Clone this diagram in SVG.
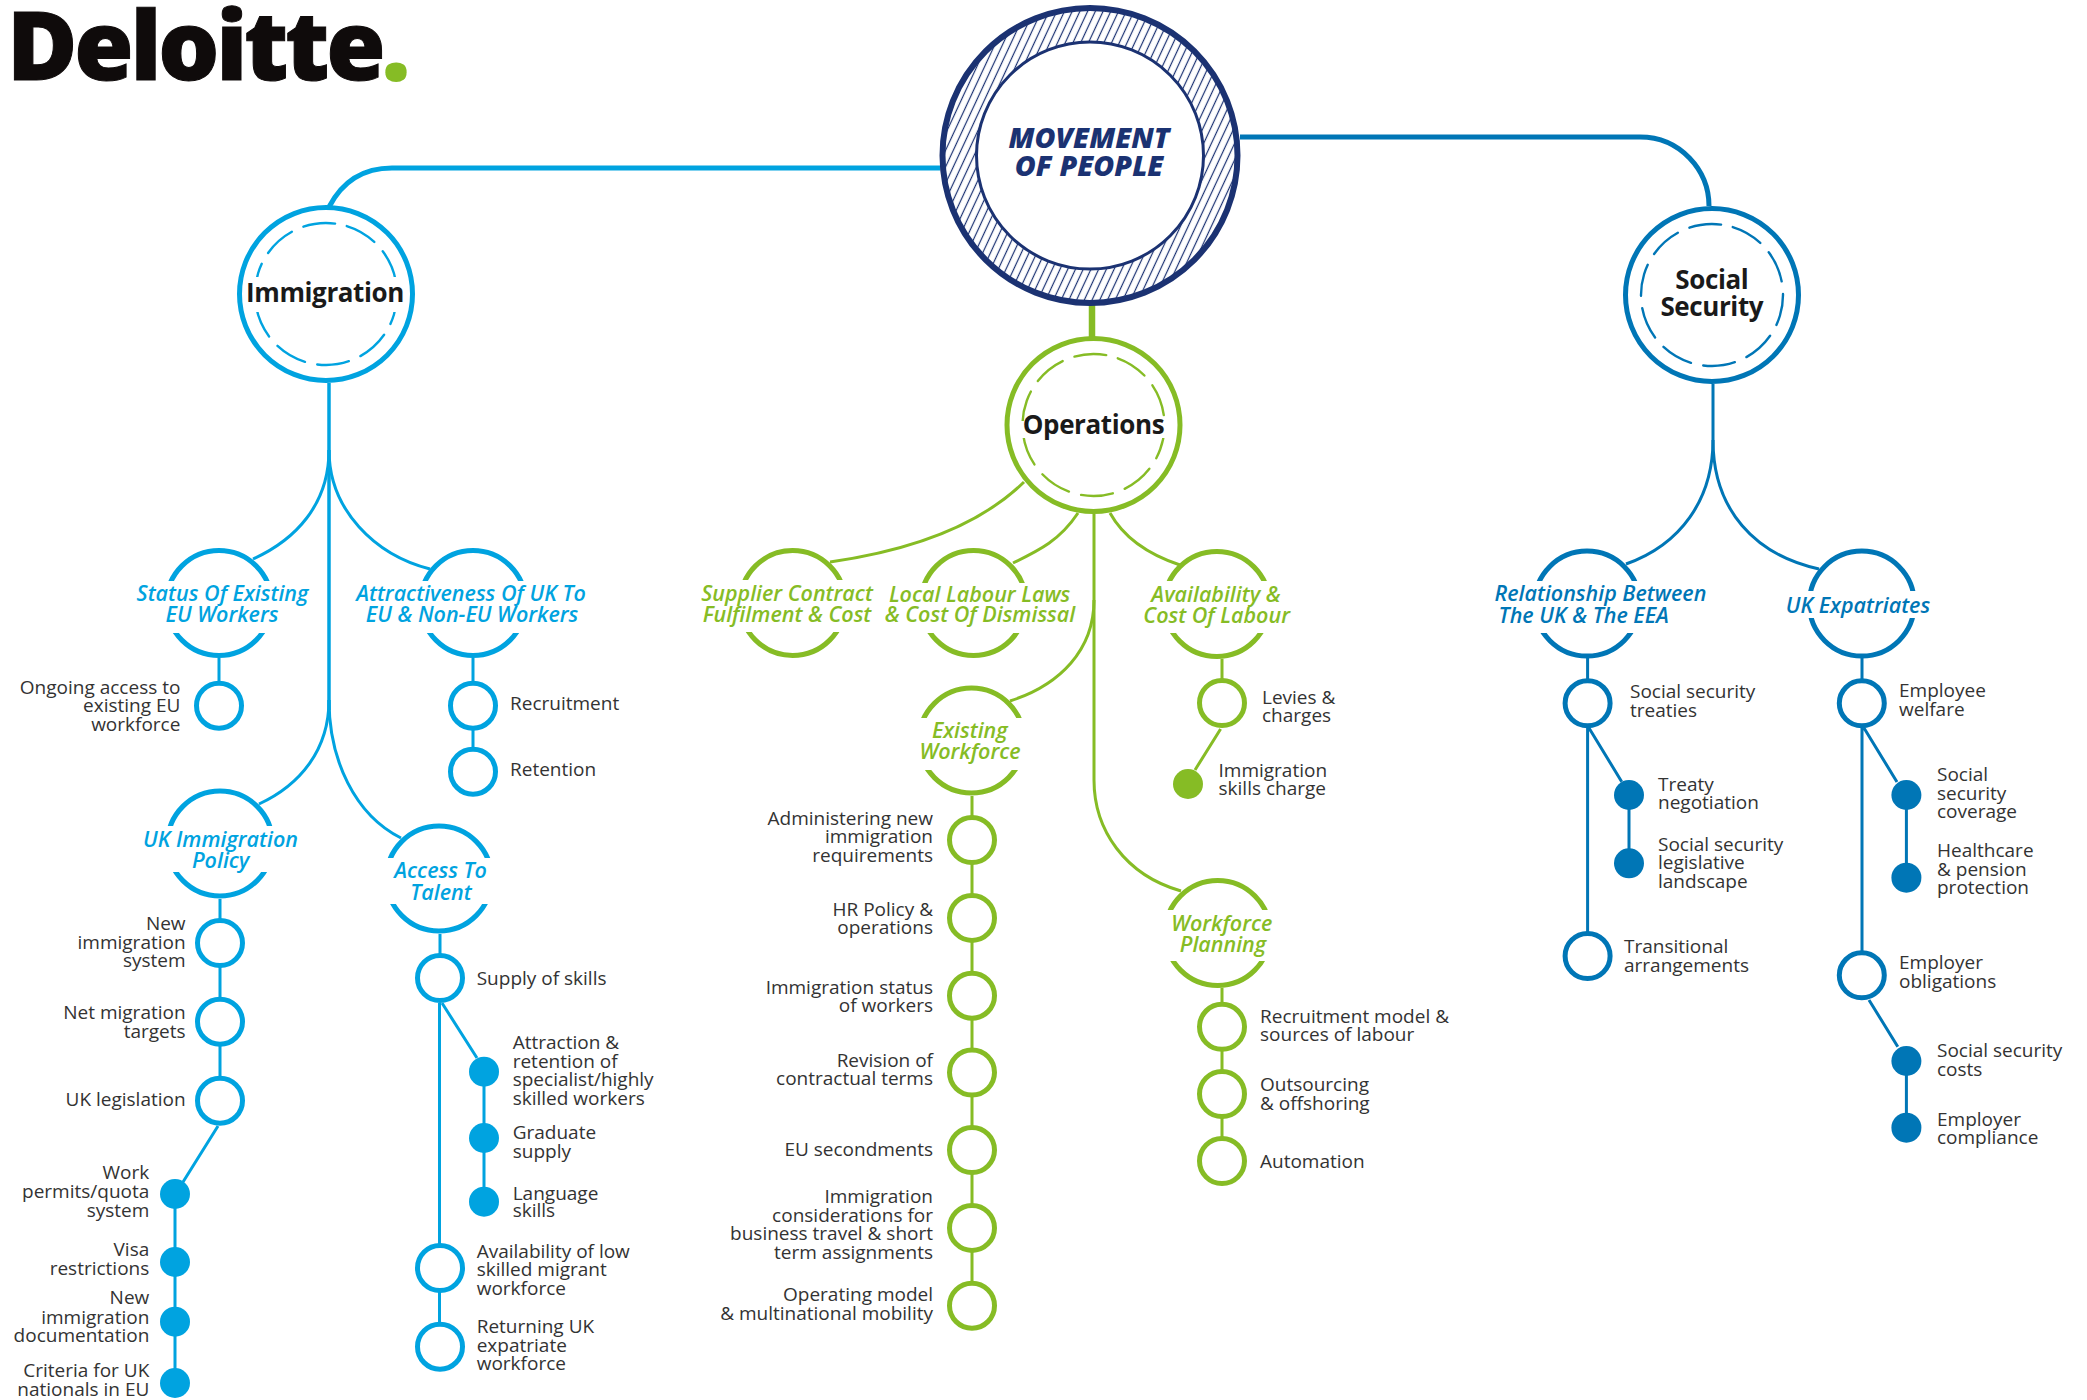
<svg xmlns="http://www.w3.org/2000/svg" width="2087" height="1400" viewBox="0 0 2087 1400">
<style>
text{font-family:"Open Sans","Noto Sans","Liberation Sans",sans-serif}
.lb{font-size:19px;fill:#333}
.e{text-anchor:end}
.t{font-size:21.500px;font-style:italic;font-weight:600;text-anchor:middle}
.ts{font-size:21.500px;font-style:italic;font-weight:600}
.h{font-size:26px;font-weight:700;fill:#1a1a1a;text-anchor:middle;letter-spacing:-.4px}
.mv{font-size:28.600px;font-style:italic;font-weight:800;fill:#1b3272;text-anchor:middle}
.gap{fill:#fff;stroke:none}
.cy{stroke:#00a3e0}.gr{stroke:#86bc25}.bl{stroke:#0076b6}
.tcy{fill:#00a3e0}.tgr{fill:#86bc25}.tbl{fill:#0076b6}
.ring,.top,.big,.dash{fill:#fff}
.ring{stroke-width:5}
.top{stroke-width:5}
.big{stroke-width:5}
.dash{fill:none;stroke-width:2.400;stroke-dasharray:32 12.600;stroke-linecap:round}
.con{fill:none;stroke-width:3}
.tr{fill:none;stroke-width:3.500}
.thick{fill:none;stroke-width:5}
</style>
<defs>
<pattern id="hatch" width="7" height="7" patternUnits="userSpaceOnUse" patternTransform="rotate(25)">
<rect width="7" height="7" fill="#fff"/>
<line x1="3.500" y1="0" x2="3.500" y2="7" stroke="#1b3272" stroke-width="1.200"/>
</pattern>
</defs>
<rect width="2087" height="1400" fill="#fff"/>

<g id="connectors">
<path class="thick cy" d="M940,168H392C362,168 342,182 329,207"/>
<path class="thick bl" d="M1240,137H1640C1680,137 1709,170 1709,206"/>
<path class="thick gr" style="stroke-width:6.500" d="M1092,305V337"/>
<path class="tr cy" d="M329,383V710"/>
<path class="con cy" d="M329,450C329,505 295,540 253,559"/>
<path class="con cy" d="M329,450C329,510 375,555 430,569"/>
<path class="con cy" d="M329,700C329,750 300,785 259,804"/>
<path class="con cy" d="M329,700C329,760 355,815 401,838"/>
<path class="con cy" d="M219,658V684M473,658V772M220,899V1100M440,934V978"/>
<path class="con cy" d="M218,1126L183,1182M175,1194V1383"/>
<path class="con cy" d="M439.500,1003V1347M442,1003L477,1058M484,1072V1202"/>
<path class="con gr" d="M1094,514V780C1094,830 1125,875 1181,891"/>
<path class="con gr" d="M1094,600C1094,650 1060,685 1010,701"/>
<path class="con gr" d="M1024,482C975,530 900,552 830,562"/>
<path class="con gr" d="M1078,513C1060,540 1040,550 1013,563"/>
<path class="con gr" d="M1110,513C1125,540 1150,555 1180,565"/>
<path class="con gr" d="M1222,659V703M1220.600,729L1195,770M972,796V1306M1222,988V1161"/>
<path class="con bl" d="M1713,384V440C1713,500 1680,545 1626,564"/>
<path class="con bl" d="M1713,440C1713,510 1755,555 1819,569"/>
<path class="con bl" d="M1587.600,658V956M1589,728L1621.700,781.700M1629,795V863"/>
<path class="con bl" d="M1862,658V975M1864,728L1897,782M1869,1000L1897.800,1046.700M1906.400,795V878M1906.400,1061V1128"/>
</g>

<g id="logo"><text x="7" y="80" style="font-size:96px;font-weight:800;fill:#0f0b0b;stroke:#0f0b0b;stroke-width:1;letter-spacing:-3.200px">Deloitte<tspan x="381" y="81" style="fill:#86bc25;stroke:none;font-size:104px;letter-spacing:0">.</tspan></text></g>

<g id="movement-of-people">
<circle cx="1090" cy="155.500" r="147.500" fill="url(#hatch)" stroke="#1b3272" stroke-width="6"/>
<circle cx="1090" cy="155.500" r="113.500" fill="#fff" stroke="#1b3272" stroke-width="3"/>
<text class="mv" x="1089" y="147.500">MOVEMENT</text>
<text class="mv" x="1089" y="176">OF PEOPLE</text>
</g>

<g id="immigration">
<circle class="big cy" cx="326" cy="294" r="86.500"/>
<circle class="dash cy" cx="326" cy="294" r="71" transform="rotate(-73 326 294)"/>
<rect class="gap" x="250" y="277" width="152" height="35"/>
<text class="h" x="325" y="301.700">Immigration</text>
</g>
<g id="operations">
<circle class="big gr" cx="1093.500" cy="425" r="86.500"/>
<circle class="dash gr" cx="1093.500" cy="425" r="71" transform="rotate(-70 1093.500 425)"/>
<rect class="gap" x="1018" y="421" width="152" height="17"/>
<text class="h" x="1093.500" y="434">Operations</text>
</g>
<g id="social-security">
<circle class="big bl" cx="1712" cy="295" r="86.500"/>
<circle class="dash bl" cx="1712" cy="295" r="71" transform="rotate(-73 1712 295)"/>
<text class="h" x="1711.800" y="288.600">Social</text>
<text class="h" x="1711.800" y="316.400">Security</text>
</g>

<g id="status-existing"><circle class="top cy" cx="219" cy="603" r="52.500"/><rect class="gap" x="159" y="581" width="120" height="52"/>
<text class="t tcy" x="222.500" y="601">Status Of Existing</text><text class="t tcy" x="222" y="622">EU Workers</text></g>
<g id="attractiveness"><circle class="top cy" cx="473" cy="603" r="52.500"/><rect class="gap" x="413" y="581" width="120" height="52"/>
<text class="t tcy" x="471" y="601">Attractiveness Of UK To</text><text class="t tcy" x="472" y="622">EU &amp; Non-EU Workers</text></g>
<g id="uk-policy"><circle class="top cy" cx="220" cy="843.500" r="52.500"/><rect class="gap" x="160" y="826" width="120" height="46"/>
<text class="t tcy" x="220.500" y="846.700">UK Immigration</text><text class="t tcy" x="220.700" y="868.300">Policy</text></g>
<g id="access-talent"><circle class="top cy" cx="439" cy="878.500" r="52.500"/><rect class="gap" x="379" y="858" width="120" height="46"/>
<text class="t tcy" x="440.600" y="878">Access To</text><text class="t tcy" x="441" y="900">Talent</text></g>

<g id="supplier"><circle class="top gr" cx="792.600" cy="603" r="52.500"/><rect class="gap" x="733" y="580" width="120" height="52"/>
<text class="t tgr" x="787" y="600.700">Supplier Contract</text><text class="t tgr" x="787" y="621.700">Fulfilment &amp; Cost</text></g>
<g id="local-labour"><circle class="top gr" cx="973.500" cy="603" r="52.500"/><rect class="gap" x="914" y="583" width="120" height="50"/>
<text class="t tgr" x="979.600" y="601.700">Local Labour Laws</text><text class="t tgr" x="980" y="622">&amp; Cost Of Dismissal</text></g>
<g id="availability"><circle class="top gr" cx="1216.800" cy="604" r="52.500"/><rect class="gap" x="1157" y="581" width="120" height="52"/>
<text class="t tgr" x="1216" y="601.700">Availability &amp;</text><text class="t tgr" x="1216.600" y="623">Cost Of Labour</text></g>
<g id="existing-workforce"><circle class="top gr" cx="971.500" cy="740.500" r="52.500"/><rect class="gap" x="912" y="718" width="120" height="52"/>
<text class="t tgr" x="969.800" y="738">Existing</text><text class="t tgr" x="970" y="759">Workforce</text></g>
<g id="workforce-planning"><circle class="top gr" cx="1217.700" cy="933" r="52.500"/><rect class="gap" x="1158" y="910" width="120" height="51"/>
<text class="t tgr" x="1221.800" y="930.700">Workforce</text><text class="t tgr" x="1223" y="952">Planning</text></g>

<g id="relationship"><circle class="top bl" cx="1587" cy="603.600" r="52.500"/><rect class="gap" x="1527" y="581" width="120" height="52"/>
<text class="ts tbl" x="1494.500" y="601.400">Relationship Between</text><text class="ts tbl" x="1498.600" y="622.900">The UK &amp; The EEA</text></g>
<g id="uk-expatriates"><circle class="top bl" cx="1861.800" cy="603.600" r="52.500"/><rect class="gap" x="1802" y="591" width="120" height="27"/>
<text class="t tbl" x="1858" y="613">UK Expatriates</text></g>

<g id="n1"><circle class="ring cy" cx="219" cy="705.700" r="22.500"/><text class="lb e" x="180.400" y="694">Ongoing access to</text><text class="lb e" x="180.400" y="712">existing EU</text><text class="lb e" x="180.400" y="731">workforce</text></g>
<g id="n2"><circle class="ring cy" cx="473" cy="705.700" r="22.500"/><text class="lb" x="510" y="710">Recruitment</text></g>
<g id="n3"><circle class="ring cy" cx="473" cy="771.700" r="22.500"/><text class="lb" x="510" y="776">Retention</text></g>
<g id="n4"><circle class="ring cy" cx="220" cy="943" r="22.500"/><text class="lb e" x="185.600" y="930">New</text><text class="lb e" x="185.600" y="949">immigration</text><text class="lb e" x="185.600" y="967">system</text></g>
<g id="n5"><circle class="ring cy" cx="220" cy="1021.700" r="22.500"/><text class="lb e" x="185.600" y="1019">Net migration</text><text class="lb e" x="185.600" y="1038">targets</text></g>
<g id="n6"><circle class="ring cy" cx="220" cy="1100.700" r="22.500"/><text class="lb e" x="185.600" y="1105.700">UK legislation</text></g>
<g id="n7"><circle class="tcy" cx="175" cy="1194" r="15"/><text class="lb e" x="149.300" y="1179">Work</text><text class="lb e" x="149.300" y="1197.700">permits/quota</text><text class="lb e" x="149.300" y="1216.700">system</text></g>
<g id="n8"><circle class="tcy" cx="175" cy="1262" r="15"/><text class="lb e" x="149.300" y="1256">Visa</text><text class="lb e" x="149.300" y="1275">restrictions</text></g>
<g id="n9"><circle class="tcy" cx="175" cy="1321.700" r="15"/><text class="lb e" x="149.300" y="1304">New</text><text class="lb e" x="149.300" y="1324">immigration</text><text class="lb e" x="149.300" y="1341.700">documentation</text></g>
<g id="n10"><circle class="tcy" cx="175" cy="1383" r="15"/><text class="lb e" x="149.300" y="1376.700">Criteria for UK</text><text class="lb e" x="149.300" y="1396">nationals in EU</text></g>
<g id="n11"><circle class="ring cy" cx="440" cy="978" r="22.500"/><text class="lb" x="476.700" y="985">Supply of skills</text></g>
<g id="n12"><circle class="tcy" cx="484" cy="1071.700" r="15"/><text class="lb" x="512.700" y="1049">Attraction &amp;</text><text class="lb" x="512.700" y="1067.700">retention of</text><text class="lb" x="512.700" y="1085.700">specialist/highly</text><text class="lb" x="512.700" y="1104.700">skilled workers</text></g>
<g id="n13"><circle class="tcy" cx="484" cy="1138" r="15"/><text class="lb" x="512.700" y="1139">Graduate</text><text class="lb" x="512.700" y="1157.700">supply</text></g>
<g id="n14"><circle class="tcy" cx="484" cy="1201.700" r="15"/><text class="lb" x="512.700" y="1200">Language</text><text class="lb" x="512.700" y="1217.300">skills</text></g>
<g id="n15"><circle class="ring cy" cx="440" cy="1268" r="22.500"/><text class="lb" x="476.700" y="1257.700">Availability of low</text><text class="lb" x="476.700" y="1276">skilled migrant</text><text class="lb" x="476.700" y="1295">workforce</text></g>
<g id="n16"><circle class="ring cy" cx="440" cy="1346.700" r="22.500"/><text class="lb" x="476.700" y="1333">Returning UK</text><text class="lb" x="476.700" y="1352">expatriate</text><text class="lb" x="476.700" y="1370">workforce</text></g>

<g id="o1"><circle class="ring gr" cx="1222" cy="703" r="22.500"/><text class="lb" x="1262" y="704">Levies &amp;</text><text class="lb" x="1262" y="722">charges</text></g>
<g id="o2"><circle class="tgr" cx="1188" cy="784" r="15"/><text class="lb" x="1218.500" y="776.700">Immigration</text><text class="lb" x="1218.500" y="795">skills charge</text></g>
<g id="o3"><circle class="ring gr" cx="972" cy="840" r="22.500"/><text class="lb e" x="933" y="825.400">Administering new</text><text class="lb e" x="933" y="843">immigration</text><text class="lb e" x="933" y="862">requirements</text></g>
<g id="o4"><circle class="ring gr" cx="972" cy="917.900" r="22.500"/><text class="lb e" x="933" y="915.700">HR Policy &amp;</text><text class="lb e" x="933" y="933.600">operations</text></g>
<g id="o5"><circle class="ring gr" cx="972" cy="995.700" r="22.500"/><text class="lb e" x="933" y="993.600">Immigration status</text><text class="lb e" x="933" y="1012">of workers</text></g>
<g id="o6"><circle class="ring gr" cx="972" cy="1072.500" r="22.500"/><text class="lb e" x="933" y="1066.800">Revision of</text><text class="lb e" x="933" y="1085">contractual terms</text></g>
<g id="o7"><circle class="ring gr" cx="972" cy="1150" r="22.500"/><text class="lb e" x="933" y="1156">EU secondments</text></g>
<g id="o8"><circle class="ring gr" cx="972" cy="1227.900" r="22.500"/><text class="lb e" x="933" y="1203">Immigration</text><text class="lb e" x="933" y="1222">considerations for</text><text class="lb e" x="933" y="1240">business travel &amp; short</text><text class="lb e" x="933" y="1259">term assignments</text></g>
<g id="o9"><circle class="ring gr" cx="972" cy="1305.700" r="22.500"/><text class="lb e" x="933" y="1301">Operating model</text><text class="lb e" x="933" y="1320">&amp; multinational mobility</text></g>
<g id="o10"><circle class="ring gr" cx="1222" cy="1026.800" r="22.500"/><text class="lb" x="1260" y="1022.900">Recruitment model &amp;</text><text class="lb" x="1260" y="1041.400">sources of labour</text></g>
<g id="o11"><circle class="ring gr" cx="1222" cy="1094" r="22.500"/><text class="lb" x="1260" y="1091">Outsourcing</text><text class="lb" x="1260" y="1110">&amp; offshoring</text></g>
<g id="o12"><circle class="ring gr" cx="1222" cy="1161" r="22.500"/><text class="lb" x="1260" y="1168">Automation</text></g>

<g id="s1"><circle class="ring bl" cx="1587.600" cy="703.300" r="22.500"/><text class="lb" x="1630" y="698">Social security</text><text class="lb" x="1630" y="717">treaties</text></g>
<g id="s2"><circle class="tbl" cx="1629" cy="795" r="15"/><text class="lb" x="1658" y="790.700">Treaty</text><text class="lb" x="1658" y="809">negotiation</text></g>
<g id="s3"><circle class="tbl" cx="1629" cy="863.300" r="15"/><text class="lb" x="1658" y="851">Social security</text><text class="lb" x="1658" y="869">legislative</text><text class="lb" x="1658" y="888">landscape</text></g>
<g id="s4"><circle class="ring bl" cx="1587.600" cy="956" r="22.500"/><text class="lb" x="1624" y="953">Transitional</text><text class="lb" x="1624" y="972">arrangements</text></g>
<g id="s5"><circle class="ring bl" cx="1861.800" cy="703.300" r="22.500"/><text class="lb" x="1899" y="696.700">Employee</text><text class="lb" x="1899" y="716">welfare</text></g>
<g id="s6"><circle class="tbl" cx="1906.400" cy="795" r="15"/><text class="lb" x="1937" y="780.700">Social</text><text class="lb" x="1937" y="800">security</text><text class="lb" x="1937" y="818">coverage</text></g>
<g id="s7"><circle class="tbl" cx="1906.400" cy="877.700" r="15"/><text class="lb" x="1937" y="857">Healthcare</text><text class="lb" x="1937" y="876">&amp; pension</text><text class="lb" x="1937" y="894">protection</text></g>
<g id="s8"><circle class="ring bl" cx="1861.800" cy="975.300" r="22.500"/><text class="lb" x="1899" y="969">Employer</text><text class="lb" x="1899" y="988">obligations</text></g>
<g id="s9"><circle class="tbl" cx="1906.400" cy="1061" r="15"/><text class="lb" x="1937" y="1057">Social security</text><text class="lb" x="1937" y="1076">costs</text></g>
<g id="s10"><circle class="tbl" cx="1906.400" cy="1127.700" r="15"/><text class="lb" x="1937" y="1126">Employer</text><text class="lb" x="1937" y="1144">compliance</text></g>
</svg>
